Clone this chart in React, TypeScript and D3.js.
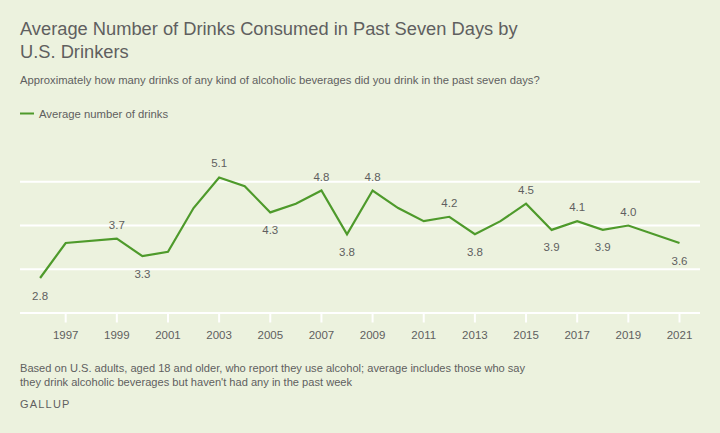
import React from "react";
import * as d3 from "d3";

const years = [1996, 1997, 1999, 2000, 2001, 2002, 2003, 2004, 2005, 2006, 2007, 2008, 2009, 2010, 2011, 2012, 2013, 2014, 2015, 2016, 2017, 2018, 2019, 2021];
const drinks = [2.8, 3.6, 3.7, 3.3, 3.4, 4.4, 5.1, 4.9, 4.3, 4.5, 4.8, 3.8, 4.8, 4.4, 4.1, 4.2, 3.8, 4.1, 4.5, 3.9, 4.1, 3.9, 4.0, 3.6];
// label placement: 1 = above, -1 = below, 0 = none
const labelPos = [-1, 0, 1, -1, 0, 0, 1, 0, -1, 0, 1, -1, 1, 0, 0, 1, -1, 0, 1, -1, 1, -1, 1, -1];
const yTicks = [2, 3, 4, 5];
const xTickYears = [1997, 1999, 2001, 2003, 2005, 2007, 2009, 2011, 2013, 2015, 2017, 2019, 2021];

const W = 720;
const H = 433;
const BG = "#ECF2DE";
const GREEN = "#4E9A2B";
const TEXT = "#5f5f5f";
const FONT = "'Liberation Sans', Arial, sans-serif";

export default function App() {
  const x = d3.scaleLinear().domain([1996, 2021]).range([40.1, 679.5]);
  const y = d3.scaleLinear().domain([2, 5]).range([313, 181.8]);
  const line = d3
    .line<number>()
    .x((_, i) => x(years[i]))
    .y((d) => y(d));

  return (
    <svg
      width={W}
      height={H}
      style={{ position: "absolute", left: 0, top: 0, background: BG }}
      fontFamily={FONT}
    >
      <rect width={W} height={H} fill={BG} />
      <text x={20} y={34.5} fontSize={18.3} fill={TEXT}>
        Average Number of Drinks Consumed in Past Seven Days by
      </text>
      <text x={20} y={58} fontSize={18.3} fill={TEXT}>
        U.S. Drinkers
      </text>
      <text x={20} y={84} fontSize={11.25} fill={TEXT}>
        Approximately how many drinks of any kind of alcoholic beverages did you drink in the past seven days?
      </text>
      <line x1={20} x2={34} y1={113.5} y2={113.5} stroke={GREEN} strokeWidth={2} />
      <text x={39} y={117.5} fontSize={11.3} fill={TEXT}>
        Average number of drinks
      </text>

      {yTicks.map((t) => (
        <line key={t} x1={20} x2={700} y1={y(t)} y2={y(t)} stroke="#ffffff" strokeWidth={2} />
      ))}
      {xTickYears.map((yr) => (
        <g key={yr}>
          <line x1={x(yr)} x2={x(yr)} y1={y(2)} y2={y(2) + 9.5} stroke="#ffffff" strokeWidth={2} />
          <text x={x(yr)} y={338.5} fontSize={11.5} fill={TEXT} textAnchor="middle">
            {yr}
          </text>
        </g>
      ))}

      <path d={line(drinks) || ""} fill="none" stroke={GREEN} strokeWidth={2.2} strokeLinejoin="miter" />

      {drinks.map((v, i) =>
        labelPos[i] === 0 ? null : (
          <text
            key={years[i]}
            x={x(years[i])}
            y={labelPos[i] > 0 ? y(v) - 10 : y(v) + 21.5}
            fontSize={11.5}
            fill={TEXT}
            textAnchor="middle"
          >
            {v.toFixed(1)}
          </text>
        )
      )}

      <text x={20} y={371.5} fontSize={11.1} fill={TEXT}>
        Based on U.S. adults, aged 18 and older, who report they use alcohol; average includes those who say
      </text>
      <text x={20} y={385.5} fontSize={11.1} fill={TEXT}>
        they drink alcoholic beverages but haven't had any in the past week
      </text>
      <text x={20} y={407.5} fontSize={11} fill={TEXT} letterSpacing={1.2}>
        GALLUP
      </text>
    </svg>
  );
}
